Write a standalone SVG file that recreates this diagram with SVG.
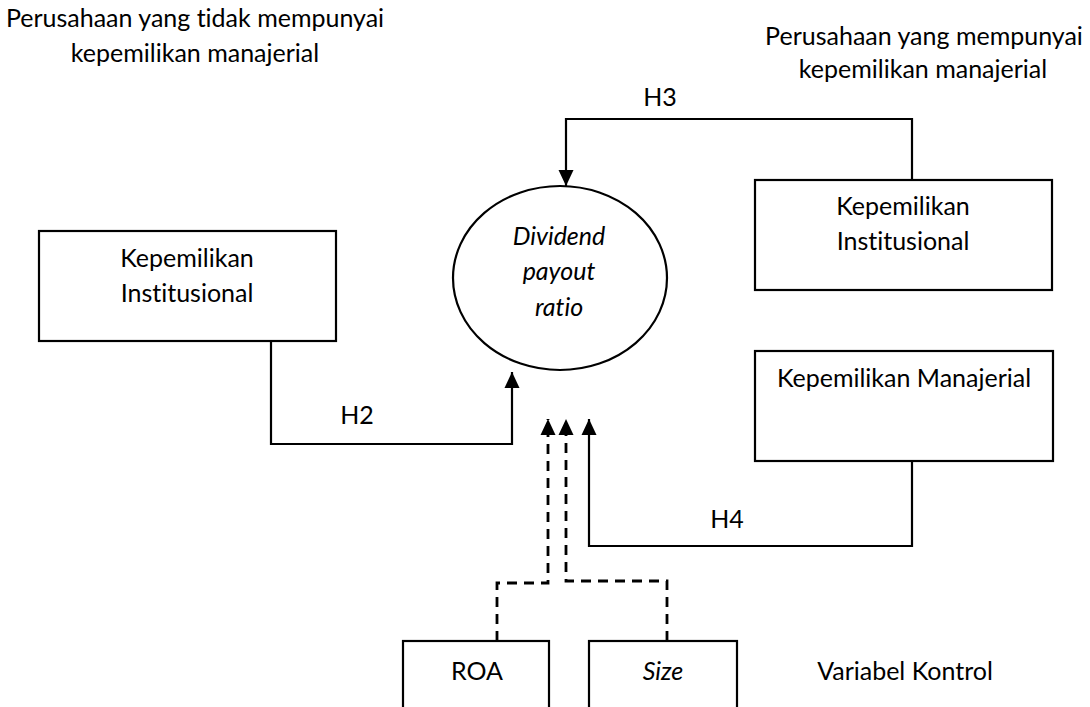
<svg xmlns="http://www.w3.org/2000/svg" width="1090" height="707" viewBox="0 0 1090 707">
<style>
text{font-family:Lato,"Open Sans","Liberation Sans",sans-serif;font-size:25px;fill:#000;text-anchor:middle;font-variant-ligatures:none;font-feature-settings:"liga" 0}
.box{fill:#fff;stroke:#000;stroke-width:2.2}
.ln{fill:none;stroke:#000;stroke-width:2.2}
.dash{fill:none;stroke:#000;stroke-width:2.8;stroke-dasharray:10,7}
.it{font-style:italic}
</style>
<defs>
<marker id="ahu" markerUnits="userSpaceOnUse" markerWidth="17" markerHeight="16" viewBox="0 0 17 16" refX="16" refY="8" orient="auto">
<path d="M0,0.5 L16,8 L0,15.5 Z" fill="#000"/>
</marker>
</defs>
<g id="title-left"><text x="195" y="27">Perusahaan yang tidak mempunyai</text><text x="195" y="62">kepemilikan manajerial</text></g>
<g id="title-right"><text x="924" y="45">Perusahaan yang mempunyai</text><text x="923" y="78">kepemilikan manajerial</text></g>
<g id="connectors">
<path class="ln" d="M912,180 V119 H566 V186" marker-end="url(#ahu)"/>
<path class="ln" d="M271,341 V444 H512 V372" marker-end="url(#ahu)"/>
<path class="ln" d="M912,461 V546 H589 V419" marker-end="url(#ahu)"/>
<path class="dash" d="M497,641 V583 H548 V419" marker-end="url(#ahu)"/>
<path class="dash" d="M667,641 V581 H566 V419" marker-end="url(#ahu)"/>
<text x="660" y="106">H3</text>
<text x="357" y="424">H2</text>
<text x="727" y="528">H4</text>
</g>
<g id="dpr"><ellipse cx="560" cy="278" rx="107" ry="92" class="box"/><text class="it" x="559" y="245">Dividend</text><text class="it" x="559" y="280">payout</text><text class="it" x="559" y="316">ratio</text></g>
<g id="ki-left"><rect class="box" x="39" y="231" width="297" height="110"/><text x="187" y="267">Kepemilikan</text><text x="187" y="302">Institusional</text></g>
<g id="ki-right"><rect class="box" x="755" y="180" width="297" height="110"/><text x="903" y="215">Kepemilikan</text><text x="903" y="250">Institusional</text></g>
<g id="km"><rect class="box" x="755" y="351" width="298" height="110"/><text x="904" y="387">Kepemilikan Manajerial</text></g>
<g id="roa"><rect class="box" x="403" y="641" width="146" height="72"/><text x="477" y="680">ROA</text></g>
<g id="size"><rect class="box" x="589" y="641" width="148" height="72"/><text class="it" x="663" y="680">Size</text></g>
<g id="vk"><text x="905" y="680">Variabel Kontrol</text></g>
</svg>
